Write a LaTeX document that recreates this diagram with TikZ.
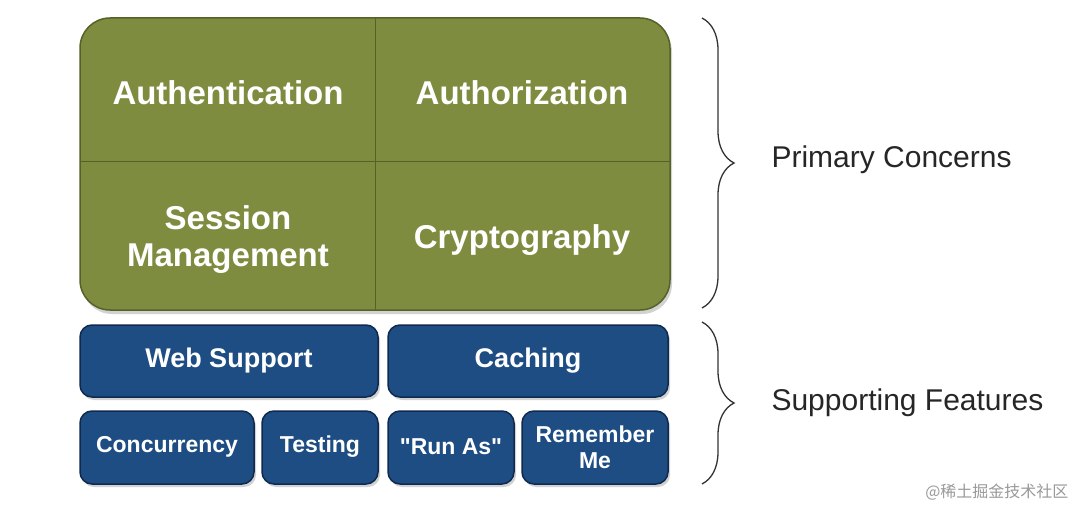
\documentclass[tikz,border=0pt]{standalone}
\usepackage{fontspec}
\setmainfont{Liberation Sans}
\newfontfamily\qfont{Liberation Sans}
\newfontfamily\cjk{Noto Sans CJK SC}
\usetikzlibrary{decorations.pathreplacing,shadows}
\definecolor{shiroGreen}{HTML}{7E8C3F}
\definecolor{shiroGreenDark}{HTML}{56612A}
\definecolor{shiroBlue}{HTML}{1E4D84}
\definecolor{shiroBlueDark}{HTML}{0F2A4E}
\tikzset{
  greentext/.style={text=white, font=\bfseries\fontsize{33}{37}\selectfont, align=center},
  bluebox/.style={draw=shiroBlueDark, line width=1.5pt, fill=shiroBlue, rounded corners=12pt,
    drop shadow={opacity=0.35, shadow xshift=2pt, shadow yshift=-3pt}},
  bluetext/.style={text=white, font=\bfseries\fontsize{27}{27}\selectfont, align=center},
  smalltext/.style={text=white, font=\bfseries\fontsize{23}{26}\selectfont, align=center},
  bracetext/.style={anchor=west, font=\fontsize{30}{32}\selectfont, text=black!85},
  rbrace/.style={decorate, decoration={brace, amplitude=32pt}, line width=1.3pt, black!80}
}
\begin{document}
\begin{tikzpicture}[x=1pt,y=-1pt]
	\useasboundingbox[fill=white] (0,0) rectangle (1077,508);

	% primary block
	\draw[draw=shiroGreenDark, line width=1.5pt, fill=shiroGreen, rounded corners=30pt,
	  drop shadow={opacity=0.35, shadow xshift=2pt, shadow yshift=-4pt}] (80,18) rectangle (670,310);
	\draw[shiroGreenDark, line width=1pt] (375,18) -- (375,310);
	\draw[shiroGreenDark, line width=1pt] (80,162) -- (670,162);
	\node[greentext] (authn) at (228,93) {Authentication};
	\node[greentext] (authz) at (522,93) {Authorization};
	\node[greentext] (session) at (228,240) {Session\\Management};
	\node[greentext] (crypto) at (522,240) {Cryptography};

	% supporting features
	\draw[bluebox] (80,325) rectangle (378,397);
	\node[bluetext] (web) at (229,361) {Web Support};
	\draw[bluebox] (388,325) rectangle (668,397);
	\node[bluetext] (cache) at (528,361) {Caching};
	\draw[bluebox] (80,411) rectangle (254,484);
	\node[smalltext] (conc) at (167,447) {Concurrency};
	\draw[bluebox] (262,411) rectangle (378,484);
	\node[smalltext] (test) at (320,447) {Testing};
	\draw[bluebox] (388,411) rectangle (514,484);
	\node[smalltext] (runas) at (451,447) {\qfont\bfseries "Run As"};
	\draw[bluebox] (522,411) rectangle (668,484);
	\node[smalltext] (remember) at (595,447) {Remember\\Me};

	% braces
	\coordinate (p1) at (702,18);
	\coordinate (p2) at (702,308);
	\coordinate (s1) at (702,322);
	\coordinate (s2) at (702,484);
	\draw[rbrace] (p1) -- (p2);
	\draw[rbrace] (s1) -- (s2);
	\node[bracetext] (primary) at (768,160) {Primary Concerns};
	\node[bracetext] (support) at (768,403) {Supporting Features};

	\node[anchor=east, text=black!40, font=\cjk\fontsize{16}{16}\selectfont] (mark) at (1072,492) {@稀土掘金技术社区};
\end{tikzpicture}
\end{document}
